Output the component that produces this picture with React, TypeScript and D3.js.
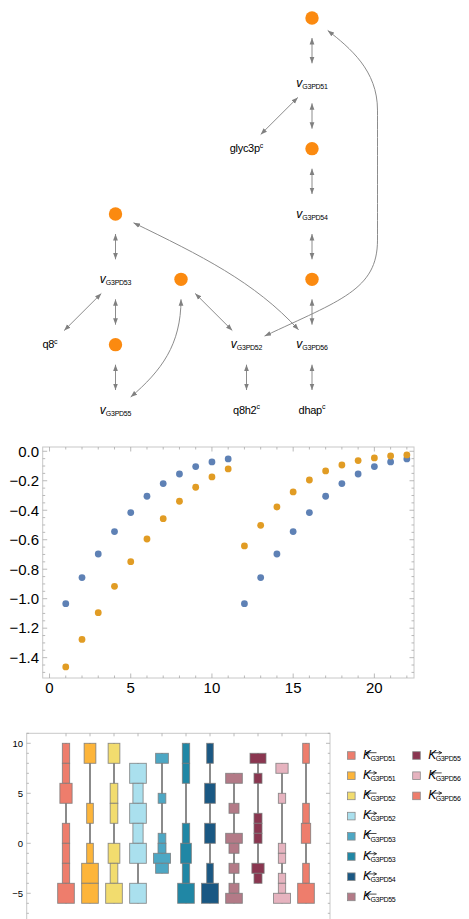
import React from 'react';
import * as d3 from 'd3';

const W = 469;
const H = 919;
const FONT = 'Liberation Sans, Arial, Helvetica, sans-serif';

// ---------- Reaction network ----------
const netNodes = [
  { id: 'm1', kind: 'met', col: 4, row: 0 },
  { id: 'v51', kind: 'rxn', label: 'G3PD51', col: 4, row: 1 },
  { id: 'glyc3p', kind: 'species', label: 'glyc3p', col: 3, row: 2 },
  { id: 'm2', kind: 'met', col: 4, row: 2 },
  { id: 'v54', kind: 'rxn', label: 'G3PD54', col: 4, row: 3 },
  { id: 'm3', kind: 'met', col: 1, row: 3 },
  { id: 'v53', kind: 'rxn', label: 'G3PD53', col: 1, row: 4 },
  { id: 'm5', kind: 'met', col: 2, row: 4 },
  { id: 'm4', kind: 'met', col: 4, row: 4 },
  { id: 'q8', kind: 'species', label: 'q8', col: 0, row: 5 },
  { id: 'm6', kind: 'met', col: 1, row: 5 },
  { id: 'v52', kind: 'rxn', label: 'G3PD52', col: 3, row: 5 },
  { id: 'v56', kind: 'rxn', label: 'G3PD56', col: 4, row: 5 },
  { id: 'v55', kind: 'rxn', label: 'G3PD55', col: 1, row: 6 },
  { id: 'q8h2', kind: 'species', label: 'q8h2', col: 3, row: 6 },
  { id: 'dhap', kind: 'species', label: 'dhap', col: 4, row: 6 },
];

const straightEdges = [
  ['m1', 'v51'], ['v51', 'glyc3p'], ['v51', 'm2'], ['m2', 'v54'], ['v54', 'm4'],
  ['m4', 'v56'], ['v56', 'dhap'], ['v52', 'q8h2'], ['m3', 'v53'], ['v53', 'q8'],
  ['v53', 'm6'], ['m6', 'v55'], ['m5', 'v52'],
];

// curved edges: cubic segments given as [c1, c2, endPoint] in grid units
// (the final end point is replaced by the trimmed target position)
const curvedEdges = [
  { from: 'm5', to: 'v55', segs: [[[2, 5.0], [1.7, 5.4], null]] },
  { from: 'm3', to: 'v56', segs: [[[2.29, 3.63], [3.13, 4.04], null]] },
  {
    from: 'v52', to: 'm1', segs: [
      [[4.43, 4.32], [5.0, 4.16], [5.0, 3.4]],
      [[5.0, 3.0], [5.0, 1.8], [5.0, 1.41]],
      [[5.0, 0.8], [4.58, 0.46], null],
    ],
  },
];

// ---------- Step response scatter ----------
const steps = [1, 2, 3, 4, 5, 6, 7, 8, 9, 10, 11, 12, 13, 14, 15, 16, 17, 18, 19, 20, 21, 22];
const blueSeries = [-1.034, -0.857, -0.697, -0.545, -0.416, -0.305, -0.219, -0.154, -0.104, -0.072, -0.052,
  -1.034, -0.857, -0.697, -0.545, -0.416, -0.305, -0.219, -0.154, -0.104, -0.072, -0.052];
const orangeSeries = [-1.463, -1.276, -1.095, -0.916, -0.749, -0.595, -0.457, -0.339, -0.244, -0.174, -0.120,
  -0.642, -0.502, -0.378, -0.276, -0.195, -0.133, -0.093, -0.063, -0.045, -0.032, -0.025];
const scatterXTicks = [0, 5, 10, 15, 20];
const scatterYTicks = [0, -0.2, -0.4, -0.6, -0.8, -1.0, -1.2, -1.4];

// ---------- Rate constant distributions (bins: [low, high, relative density]) ----------
const kRev51 = [[8, 10, 0.43], [6, 8, 0.43], [4, 6, 0.72], [0, 2, 0.43], [-2, 0, 0.43], [-4, -2, 0.43], [-6, -4, 0.98]];
const kFwd51 = [[8, 10, 0.69], [2, 4, 0.39], [-2, 0, 0.39], [-4, -2, 0.98], [-6, -4, 0.98]];
const kRev52 = [[8, 10, 0.69], [4, 6, 0.45], [2, 4, 0.45], [-2, 0, 0.69], [-4, -2, 0.45], [-6, -4, 0.98]];
const kFwd52 = [[6, 8, 0.98], [4, 6, 0.6], [2, 4, 0.98], [0, 2, 0.6], [-2, 0, 0.98], [-6, -4, 0.98]];
const kRev53 = [[8, 9, 0.75], [4, 5, 0.45], [0, 1, 0.45], [-1, 0, 0.47], [-2, -1, 1.0], [-3, -2, 0.75]];
const kFwd53 = [[8, 10, 0.43], [6, 8, 0.43], [0, 2, 0.43], [-2, 0, 0.63], [-4, -2, 0.43], [-6, -4, 0.98]];
const kFwd54 = [[8, 10, 0.39], [4, 6, 0.63], [0, 2, 0.63], [-4, -2, 0.39], [-6, -4, 1.0]];
const kRev55 = [[6, 7, 0.98], [3, 4, 0.59], [0, 1, 0.98], [-1, 0, 0.59], [-3, -2, 0.59], [-5, -4, 0.59], [-6, -5, 0.98]];
const kFwd55 = [[8, 9, 0.94], [6, 7, 0.47], [2, 3, 0.47], [1, 2, 0.47], [0, 1, 0.47], [-3, -2, 0.72], [-4, -3, 0.47]];
const kRev56 = [[7, 8, 0.72], [4, 5, 0.43], [-1, 0, 0.43], [-2, -1, 0.43], [-4, -3, 0.43], [-5, -4, 0.43], [-6, -5, 1.0]];
const kFwd56 = [[8, 10, 0.39], [2, 4, 0.39], [0, 2, 0.55], [-4, -2, 0.39], [-6, -4, 0.98]];

const kColumns = [kRev51, kFwd51, kRev52, kFwd52, kRev53, kFwd53, kFwd54, kRev55, kFwd55, kRev56, kFwd56];
const kDirections = ['rev', 'fwd', 'rev', 'fwd', 'rev', 'fwd', 'fwd', 'rev', 'fwd', 'rev', 'fwd'];
const kReactions = ['G3PD51', 'G3PD51', 'G3PD52', 'G3PD52', 'G3PD53', 'G3PD53', 'G3PD54', 'G3PD55', 'G3PD55', 'G3PD56', 'G3PD56'];
const kColors = ['#EE7D6C', '#FDB53A', '#F2DC6E', '#AAE0EE', '#4DA7C4', '#2087A5', '#1A5883', '#B37A87', '#8A3650', '#E6B3BF', '#EE7D6C'];
const boxYTicks = [10, 5, 0, -5];

const GRAY = '#8c8c8c';
const FRAME = '#c8c8c8';

function Network() {
  const gx = d3.scaleLinear().domain([0, 5]).range([50, 377.5]);
  const gy = d3.scaleLinear().domain([0, 6]).range([18, 410]);
  const pos = new Map(netNodes.map((n) => [n.id, [gx(n.col), gy(n.row)]]));
  const trim = 20;
  const toward = (a: number[], b: number[], d: number) => {
    const dx = b[0] - a[0];
    const dy = b[1] - a[1];
    const l = Math.hypot(dx, dy);
    return [a[0] + (dx / l) * d, a[1] + (dy / l) * d];
  };

  const straight = straightEdges.map(([s, t]) => {
    const a = pos.get(s)!;
    const b = pos.get(t)!;
    const p0 = toward(a, b, trim);
    const p1 = toward(b, a, trim);
    const p = d3.path();
    p.moveTo(p0[0], p0[1]);
    p.lineTo(p1[0], p1[1]);
    return p.toString();
  });

  const curved = curvedEdges.map((e) => {
    const a = pos.get(e.from)!;
    const b = pos.get(e.to)!;
    const segs = e.segs.map((s) => s.map((q) => (q ? [gx(q[0]), gy(q[1])] : null)));
    const start = toward(a, segs[0][0]!, trim);
    const last = segs[segs.length - 1];
    const end = toward(b, last[1]!, trim);
    const p = d3.path();
    p.moveTo(start[0], start[1]);
    segs.forEach((s) => {
      const q = s[2] ?? end;
      p.bezierCurveTo(s[0]![0], s[0]![1], s[1]![0], s[1]![1], q[0], q[1]);
    });
    return p.toString();
  });

  return (
    <g>
      <defs>
        <marker id="arrowHead" viewBox="0 0 10 10" refX="10" refY="5" markerWidth="6.5" markerHeight="6.5"
          markerUnits="userSpaceOnUse" orient="auto-start-reverse">
          <path d="M0,1.3 L10,5 L0,8.7 z" fill="#808080" />
        </marker>
      </defs>
      {straight.concat(curved).map((d, i) => (
        <path key={i} d={d} fill="none" stroke={GRAY} strokeWidth={1}
          markerStart="url(#arrowHead)" markerEnd="url(#arrowHead)" />
      ))}
      {netNodes.map((n) => {
        const [x, y] = pos.get(n.id)!;
        if (n.kind === 'met') {
          return <circle key={n.id} cx={x} cy={y} r={6.7} fill="#FB8A10" />;
        }
        if (n.kind === 'rxn') {
          return (
            <text key={n.id} x={x} y={y + 3.5} textAnchor="middle" fontFamily={FONT} fill="#000">
              <tspan fontStyle="italic" fontSize={12}>v</tspan>
              <tspan fontSize={7} dy={2.3} letterSpacing={-0.25}>{n.label}</tspan>
            </text>
          );
        }
        return (
          <text key={n.id} x={x} y={y + 3.5} textAnchor="middle" fontFamily={FONT} fill="#000">
            <tspan fontSize={11} letterSpacing={-0.3}>{n.label}</tspan>
            <tspan fontSize={7} dy={-4.5}>c</tspan>
          </text>
        );
      })}
    </g>
  );
}

function Scatter() {
  const left = 42.7, right = 414, top = 447, bottom = 678;
  const x = d3.scaleLinear().domain([-0.42, 22.44]).range([left, right]);
  const y = d3.scaleLinear().domain([-1.538, 0.029]).range([bottom, top]);
  const xMinor = d3.range(0, 23);
  const yMinor = d3.range(0, 31).map((i) => -i * 0.05);
  return (
    <g>
      <rect x={left} y={top} width={right - left} height={bottom - top} fill="none" stroke={FRAME} strokeWidth={1} />
      {xMinor.map((v) => {
        const len = v % 5 === 0 ? 4.5 : 2.5;
        return (
          <g key={'x' + v} stroke="#a8a8a8" strokeWidth={0.8}>
            <line x1={x(v)} x2={x(v)} y1={bottom} y2={bottom - len} />
            <line x1={x(v)} x2={x(v)} y1={top} y2={top + len} />
          </g>
        );
      })}
      {yMinor.map((v, i) => {
        const len = i % 4 === 0 ? 4.5 : 2.5;
        return (
          <g key={'y' + i} stroke="#a8a8a8" strokeWidth={0.8}>
            <line x1={left} x2={left + len} y1={y(v)} y2={y(v)} />
            <line x1={right} x2={right - len} y1={y(v)} y2={y(v)} />
          </g>
        );
      })}
      {scatterXTicks.map((v) => (
        <text key={'xl' + v} x={x(v)} y={693} textAnchor="middle" fontFamily={FONT} fontSize={15} fill="#000">{v}</text>
      ))}
      {scatterYTicks.map((v) => (
        <text key={'yl' + v} x={39} y={y(v) + 5.3} textAnchor="end" fontFamily={FONT} fontSize={15} fill="#000">
          {(v < 0 ? '\u2212' : '') + Math.abs(v).toFixed(1)}
        </text>
      ))}
      {steps.map((s, i) => (
        <circle key={'b' + i} cx={x(s)} cy={y(blueSeries[i])} r={3.4} fill="#5E81B5" />
      ))}
      {steps.map((s, i) => (
        <circle key={'o' + i} cx={x(s)} cy={y(orangeSeries[i])} r={3.4} fill="#E19C24" />
      ))}
    </g>
  );
}

function RateChart() {
  const left = 26.7, right = 330, top = 733.3, bottom = 930;
  const y = d3.scaleLinear().domain([0, 10]).range([843.3, 743.3]);
  const x = d3.scalePoint<number>().domain(d3.range(kColumns.length)).range([66, 306]);
  const maxW = 17;
  const unitTicks = d3.range(-8, 12);
  return (
    <g>
      <rect x={left} y={top} width={right - left} height={bottom - top} fill="none" stroke={FRAME} strokeWidth={1} />
      {unitTicks.map((v) => {
        const len = v % 5 === 0 ? 4 : 2.2;
        return (
          <g key={'t' + v} stroke="#a8a8a8" strokeWidth={0.8}>
            <line x1={left} x2={left + len} y1={y(v)} y2={y(v)} />
            <line x1={right} x2={right - len} y1={y(v)} y2={y(v)} />
          </g>
        );
      })}
      {kColumns.map((_, i) => (
        <line key={'c' + i} x1={x(i)} x2={x(i)} y1={top} y2={top + 3} stroke="#a8a8a8" strokeWidth={0.8} />
      ))}
      {boxYTicks.map((v) => (
        <text key={'l' + v} x={23} y={y(v) + 3.4} textAnchor="end" fontFamily={FONT} fontSize={9.5} fill="#000">
          {(v < 0 ? '\u2212' : '') + Math.abs(v)}
        </text>
      ))}
      {kColumns.map((bins, i) => {
        const cx = x(i)!;
        const lo = d3.min(bins, (b) => b[0])!;
        const hi = d3.max(bins, (b) => b[1])!;
        return (
          <g key={'k' + i}>
            <line x1={cx} x2={cx} y1={y(lo)} y2={y(hi)} stroke="#6e6e6e" strokeWidth={1.6} />
            {bins.map((b, j) => {
              const w = b[2] * maxW;
              return (
                <rect key={j} x={cx - w / 2} y={y(b[1])} width={w} height={y(b[0]) - y(b[1])}
                  fill={kColors[i]} stroke="#7a7a7a" strokeOpacity={0.85} strokeWidth={0.9} />
              );
            })}
          </g>
        );
      })}
    </g>
  );
}

function Legend() {
  const row = d3.scaleLinear().domain([0, 1]).range([755.5, 775.7]);
  const colX = [347.5, 412.7];
  const perCol = 8;
  return (
    <g>
      {kColumns.map((_, i) => {
        const c = Math.floor(i / perCol);
        const r = i % perCol;
        const sx = colX[c];
        const cy = row(r);
        const tx = sx + 15.5;
        const fwd = kDirections[i] === 'fwd';
        const ax0 = tx + 3.2;
        const ax1 = tx + 13.5;
        const ay = cy - 2.8;
        const tip = fwd ? ax1 : ax0;
        const dir = fwd ? -1 : 1;
        return (
          <g key={'lg' + i}>
            <rect x={sx} y={cy - 3.8} width={7.6} height={7.6} fill={kColors[i]} stroke="#8a8a8a" strokeWidth={0.8} />
            <text x={tx} y={cy + 3} fontFamily={FONT} fill="#000">
              <tspan fontStyle="italic" fontSize={12}>K</tspan>
              <tspan fontSize={7} dy={2.2} dx={-0.5} letterSpacing={-0.35}>{kReactions[i]}</tspan>
            </text>
            <line x1={ax0} x2={ax1} y1={ay} y2={ay} stroke="#000" strokeWidth={0.7} />
            <path d={`M${tip},${ay} l${dir * 3},-1.6 M${tip},${ay} l${dir * 3},1.6`} stroke="#000" strokeWidth={0.7} fill="none" />
          </g>
        );
      })}
    </g>
  );
}

export default function App() {
  return (
    <div style={{ position: 'absolute', left: 0, top: 0, width: W, height: H, background: '#fff' }}>
      <svg width={W} height={H} viewBox={`0 0 ${W} ${H}`} style={{ display: 'block' }}>
        <rect width={W} height={H} fill="#fff" />
        <Network />
        <Scatter />
        <RateChart />
        <Legend />
      </svg>
    </div>
  );
}
